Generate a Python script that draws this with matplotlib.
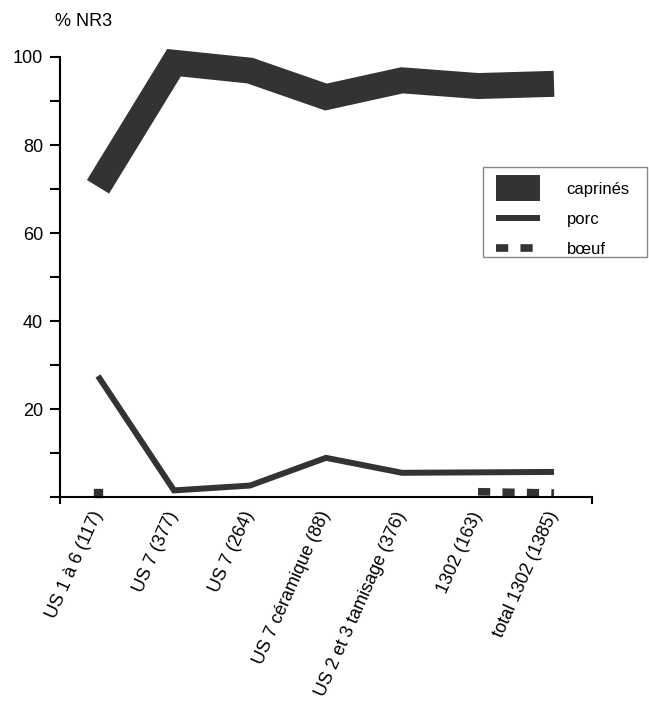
import numpy as np
import matplotlib.pyplot as plt
from matplotlib.patches import Rectangle

# ================== Données ==================

categories = ["US 1 à 6 (117)", "US 7 (377)", "US 7 (264)", "US 7 céramique (88)",
              "US 2 et 3 tamisage (376)", "1302 (163)", "total 1302 (1385)"]
caprines = [70.5, 98.7, 96.9, 90.9, 94.7, 93.4, 93.9]
porc = [27.5, 1.5, 2.6, 8.9, 5.5, 5.6, 5.7]
boeuf = [0.9, np.nan, np.nan, np.nan, np.nan, 1.2, 0.9]

couleur = "#333333"
plt.rcParams['font.family'] = ['Liberation Sans', 'DejaVu Sans']

W, H = 649, 704
fig = plt.figure(figsize=(W/100, H/100), dpi=100)
ax = fig.add_axes([60/W, 1-497/H, 532/W, 440/H])

x = np.arange(len(categories))
ax.plot(x, caprines, color=couleur, lw=18.7, solid_joinstyle='miter',
        solid_capstyle='butt', clip_on=False, label="caprinés")
ax.plot(x, porc, color=couleur, lw=4.3, solid_joinstyle='miter',
        solid_capstyle='butt', clip_on=False, label="porc")
ax.plot(x, boeuf, color=couleur, lw=5.5, ls=(0, (1.6, 1.6)),
        dash_capstyle='butt', clip_on=False, label="bœuf")
# point isolé de bœuf
ax.plot(x[:1], boeuf[:1], 's', color=couleur, ms=5.8, clip_on=False)

ax.set_xlim(-0.5, 6.5)
ax.set_ylim(0, 100)

ax.spines['top'].set_visible(False)
ax.spines['right'].set_visible(False)
ax.spines['left'].set_linewidth(1.5)
ax.spines['bottom'].set_linewidth(1.5)

ax.set_yticks([0, 20, 40, 60, 80, 100], ['', '20', '40', '60', '80', '100'])
ax.set_yticks([10, 30, 50, 70, 90], minor=True)
ax.tick_params(axis='y', which='both', direction='out', length=7.2, width=1.5,
               labelsize=13, pad=5)

ax.set_xticks([-0.5, 6.5], ['', ''])
ax.set_xticks(x, categories, minor=True)
ax.tick_params(axis='x', which='major', direction='out', length=5, width=1.5)
ax.tick_params(axis='x', which='minor', length=0, labelsize=13, pad=11)
for lab in ax.get_xticklabels(minor=True):
    lab.set_rotation(66)
    lab.set_ha('right')
    lab.set_va('center')
    lab.set_rotation_mode('anchor')

fig.text(55/W, 1-22/H, "% NR3", fontsize=13, ha='left', va='center')

# légende sans cadre + cadre dessiné à part
leg = ax.legend(loc='upper left', bbox_to_anchor=(496/W, 1-182/H),
                bbox_transform=fig.transFigure, fontsize=12, frameon=False,
                handlelength=2.63, handletextpad=1.6, labelspacing=0.89,
                borderpad=0, borderaxespad=0)
fig.patches.append(Rectangle((483/W, 1-257/H), 164/W, 90/H, transform=fig.transFigure,
                             fill=False, edgecolor='#888888', lw=1))

fig.savefig("out.png", dpi=100)
